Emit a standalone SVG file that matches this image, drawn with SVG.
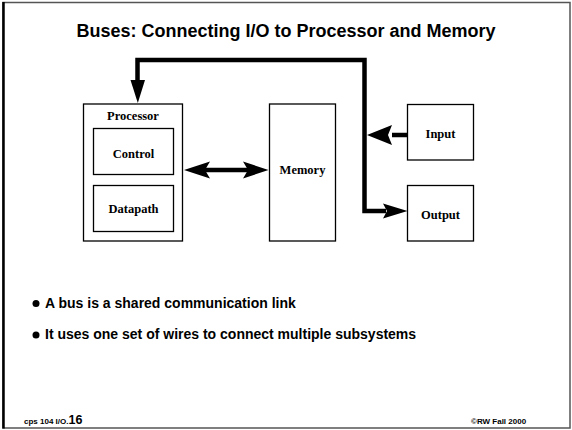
<svg xmlns="http://www.w3.org/2000/svg" width="572" height="430" viewBox="0 0 572 430">
<style>
.box{fill:#fff;stroke:#000;stroke-width:1.3}
.lbl{font-family:"Liberation Serif","Times New Roman",serif;font-weight:bold;font-size:12.5px;text-anchor:middle;fill:#000}
.sans{font-family:"Liberation Sans",Arial,sans-serif;font-weight:bold;fill:#000}
.bus{fill:none;stroke:#000;stroke-width:4.5;stroke-linejoin:miter}
.head{fill:#000}
</style>
<rect x="0" y="0" width="572" height="430" fill="#fff"/>
<rect x="3" y="2.5" width="567" height="425.5" fill="none" stroke="#555" stroke-width="1.5"/>
<line x1="3.5" y1="2" x2="3.5" y2="428.5" stroke="#000" stroke-width="2.5"/>
<text class="sans" x="286" y="37" font-size="18" text-anchor="middle">Buses: Connecting I/O to Processor and Memory</text>
<g id="connectors">
<path class="bus" d="M137.5 82 V60 H364.5 V211 H386"/>
<path class="head" d="M130.5 80 L145 80 L137.8 103 Z"/>
<path class="head" d="M383 203.5 L407.5 211 L383 218.5 L387 211 Z"/>
<line x1="392" y1="135" x2="408" y2="135" stroke="#000" stroke-width="4.5"/>
<path class="head" d="M367 135 L392 125 L388 135 L392 145 Z"/>
<line x1="205" y1="170" x2="248" y2="170" stroke="#000" stroke-width="4.5"/>
<path class="head" d="M184 170 L210 161.5 L205 170 L210 178.5 Z"/>
<path class="head" d="M268.5 170 L243 161.5 L248 170 L243 178.5 Z"/>
</g>
<g id="processor">
<rect class="box" x="83.5" y="104" width="99" height="137"/>
<text class="lbl" x="133" y="119.5">Processor</text>
</g>
<g id="control">
<rect class="box" x="93.5" y="128.5" width="80" height="46"/>
<text class="lbl" x="133.5" y="157.5">Control</text>
</g>
<g id="datapath">
<rect class="box" x="93.5" y="185.5" width="80" height="46"/>
<text class="lbl" x="133.5" y="213">Datapath</text>
</g>
<g id="memory">
<rect class="box" x="269.5" y="104" width="66" height="137"/>
<text class="lbl" x="302.5" y="173.5">Memory</text>
</g>
<g id="input">
<rect class="box" x="407.5" y="104.5" width="66" height="55.5"/>
<text class="lbl" x="440.5" y="137.5">Input</text>
</g>
<g id="output">
<rect class="box" x="407.5" y="185.5" width="66" height="55.5"/>
<text class="lbl" x="440.5" y="219">Output</text>
</g>
<circle cx="36" cy="303.5" r="3.5" fill="#000"/>
<text class="sans" x="45" y="307.5" font-size="14">A bus is a shared communication link</text>
<circle cx="36" cy="335" r="3.5" fill="#000"/>
<text class="sans" x="45" y="339" font-size="14">It uses one set of wires to connect multiple subsystems</text>
<text class="sans" x="24" y="423.5" font-size="8">cps 104 I/O.<tspan font-size="12.5">16</tspan></text>
<text class="sans" x="471" y="423.5" font-size="8">©RW Fall 2000</text>
</svg>
